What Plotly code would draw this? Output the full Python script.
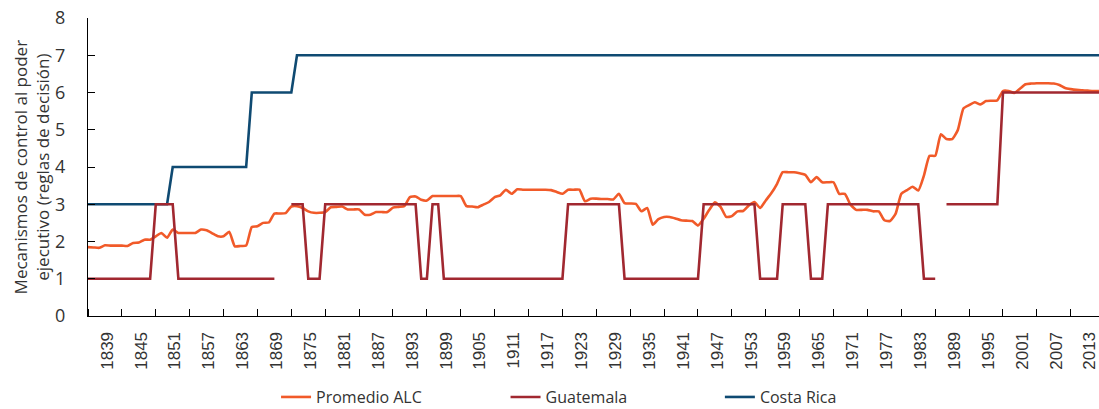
import plotly.graph_objects as go

years = list(range(1836, 2016))

promedio_alc = [
    1.85, 1.84, 1.83, 1.90, 1.89, 1.89, 1.89, 1.88, 1.96, 1.97,
    2.05, 2.05, 2.14, 2.23, 2.10, 2.32, 2.23, 2.23, 2.23, 2.23,
    2.32, 2.30, 2.22, 2.14, 2.14, 2.26, 1.87, 1.88, 1.89, 2.39,
    2.41, 2.50, 2.51, 2.75, 2.75, 2.76, 2.94, 2.95, 2.90, 2.81,
    2.77, 2.77, 2.79, 2.92, 2.93, 2.94, 2.86, 2.86, 2.86, 2.72,
    2.72, 2.79, 2.79, 2.79, 2.91, 2.93, 2.95, 3.19, 3.21, 3.12,
    3.10, 3.22, 3.22, 3.22, 3.22, 3.22, 3.22, 2.95, 2.94, 2.92,
    2.99, 3.06, 3.19, 3.24, 3.39, 3.28, 3.40, 3.39, 3.39, 3.39,
    3.39, 3.39, 3.38, 3.33, 3.28, 3.39, 3.39, 3.39, 3.08, 3.15,
    3.15, 3.14, 3.14, 3.13, 3.28, 3.03, 3.02, 3.01, 2.81, 2.90,
    2.45, 2.60, 2.66, 2.66, 2.62, 2.57, 2.56, 2.55, 2.43, 2.61,
    2.85, 3.05, 2.93, 2.66, 2.68, 2.81, 2.82, 2.97, 3.06, 2.90,
    3.10, 3.30, 3.55, 3.86, 3.86, 3.86, 3.83, 3.79, 3.59, 3.73,
    3.59, 3.59, 3.59, 3.28, 3.28, 2.99, 2.85, 2.85, 2.85, 2.81,
    2.81, 2.57, 2.55, 2.75, 3.28, 3.38, 3.47, 3.37, 3.77, 4.30,
    4.30, 4.88, 4.75, 4.75, 4.99, 5.57, 5.66, 5.74, 5.68, 5.77,
    5.78, 5.79, 6.04, 6.04, 5.99, 6.10, 6.22, 6.24, 6.25, 6.25,
    6.25, 6.24, 6.20, 6.12, 6.09, 6.07, 6.06, 6.05, 6.04, 6.04,
]

guatemala = [
    1, 1, 1, 1, 1, 1, 1, 1, 1, 1,
    1, 1, 3, 3, 3, 3, 1, 1, 1, 1,
    1, 1, 1, 1, 1, 1, 1, 1, 1, 1,
    1, 1, 1, 1, None, None, 3, 3, 3, 1,
    1, 1, 3, 3, 3, 3, 3, 3, 3, 3,
    3, 3, 3, 3, 3, 3, 3, 3, 3, 1,
    1, 3, 3, 1, 1, 1, 1, 1, 1, 1,
    1, 1, 1, 1, 1, 1, 1, 1, 1, 1,
    1, 1, 1, 1, 1, 3, 3, 3, 3, 3,
    3, 3, 3, 3, 3, 1, 1, 1, 1, 1,
    1, 1, 1, 1, 1, 1, 1, 1, 1, 3,
    3, 3, 3, 3, 3, 3, 3, 3, 3, 1,
    1, 1, 1, 3, 3, 3, 3, 3, 1, 1,
    1, 3, 3, 3, 3, 3, 3, 3, 3, 3,
    3, 3, 3, 3, 3, 3, 3, 3, 1, 1,
    1, None, 3, 3, 3, 3, 3, 3, 3, 3,
    3, 3, 6, 6, 6, 6, 6, 6, 6, 6,
    6, 6, 6, 6, 6, 6, 6, 6, 6, 6,
]

costa_rica = [
    3, 3, 3, 3, 3, 3, 3, 3, 3, 3,
    3, 3, 3, 3, 3, 4, 4, 4, 4, 4,
    4, 4, 4, 4, 4, 4, 4, 4, 4, 6,
    6, 6, 6, 6, 6, 6, 6, 7, 7, 7,
    7, 7, 7, 7, 7, 7, 7, 7, 7, 7,
    7, 7, 7, 7, 7, 7, 7, 7, 7, 7,
    7, 7, 7, 7, 7, 7, 7, 7, 7, 7,
    7, 7, 7, 7, 7, 7, 7, 7, 7, 7,
    7, 7, 7, 7, 7, 7, 7, 7, 7, 7,
    7, 7, 7, 7, 7, 7, 7, 7, 7, 7,
    7, 7, 7, 7, 7, 7, 7, 7, 7, 7,
    7, 7, 7, 7, 7, 7, 7, 7, 7, 7,
    7, 7, 7, 7, 7, 7, 7, 7, 7, 7,
    7, 7, 7, 7, 7, 7, 7, 7, 7, 7,
    7, 7, 7, 7, 7, 7, 7, 7, 7, 7,
    7, 7, 7, 7, 7, 7, 7, 7, 7, 7,
    7, 7, 7, 7, 7, 7, 7, 7, 7, 7,
    7, 7, 7, 7, 7, 7, 7, 7, 7, 7,
]

tick_years = [1839, 1845, 1851, 1857, 1863, 1869, 1875, 1881, 1887, 1893,
              1899, 1905, 1911, 1917, 1923, 1929, 1935, 1941, 1947, 1953,
              1959, 1965, 1971, 1977, 1983, 1989, 1995, 2001, 2007, 2013]

C_ALC = "#F15A29"
C_GUA = "#A12830"
C_CR = "#0F4A72"
TXT = "#333333"

fig = go.Figure()
fig.add_trace(go.Scatter(x=years, y=promedio_alc, mode="lines", name="Promedio ALC",
                         line=dict(color=C_ALC, width=2.6, shape="spline", smoothing=0.5),
                         legend="legend"))
fig.add_trace(go.Scatter(x=years, y=costa_rica, mode="lines", name="Costa Rica",
                         line=dict(color=C_CR, width=2.6), legend="legend3"))
fig.add_trace(go.Scatter(x=years, y=guatemala, mode="lines", name="Guatemala",
                         line=dict(color=C_GUA, width=2.6), connectgaps=False,
                         legend="legend2"))

leg_common = dict(orientation="h", yanchor="middle", xanchor="left",
                  font=dict(family="Open Sans", size=16, color=TXT),
                  bgcolor="rgba(0,0,0,0)")
fig.update_layout(
    width=1099, height=409,
    margin=dict(l=88, r=0, t=18, b=93, autoexpand=False),
    paper_bgcolor="white", plot_bgcolor="white",
    showlegend=True,
    legend=dict(x=0.186, y=-0.272, **leg_common),
    legend2=dict(x=0.413, y=-0.272, **leg_common),
    legend3=dict(x=0.625, y=-0.272, **leg_common),
    xaxis=dict(
        range=[1836, 2015],
        automargin=False,
        tickmode="array",
        tickvals=[y + 0.4 for y in tick_years],
        ticktext=[str(y) for y in tick_years],
        tickangle=-90,
        ticks="",
        ticklabelstandoff=8,
        ticklabeloverflow="allow",
        tickfont=dict(family="Liberation Sans", size=17, color=TXT),
        showline=True, linecolor="#000", linewidth=1.3,
        showgrid=False, zeroline=False,
        minor=dict(tick0=1842, dtick=6, ticks="inside", ticklen=7,
                   tickcolor="#000", tickwidth=1.3, showgrid=False),
    ),
    yaxis=dict(
        range=[0, 8], dtick=1, tick0=0,
        automargin=False,
        ticks="inside", ticklen=7, tickcolor="#000", tickwidth=1.3,
        ticklabelstandoff=18,
        tickfont=dict(family="Open Sans", size=18, color=TXT),
        showline=True, linecolor="#000", linewidth=1.3,
        showgrid=False, zeroline=False,
    ),
    annotations=[dict(
        text="Mecanismos de control al poder<br>ejecutivo (reglas de decisión)",
        xref="paper", yref="paper", x=-0.056, y=0.5,
        xanchor="center", yanchor="middle", textangle=-90, showarrow=False,
        font=dict(family="Open Sans", size=17, color=TXT),
    )],
)

fig.write_html("out.html", config={"displayModeBar": False},
               post_script="document.body.style.margin='0';document.body.style.overflow='hidden';")
